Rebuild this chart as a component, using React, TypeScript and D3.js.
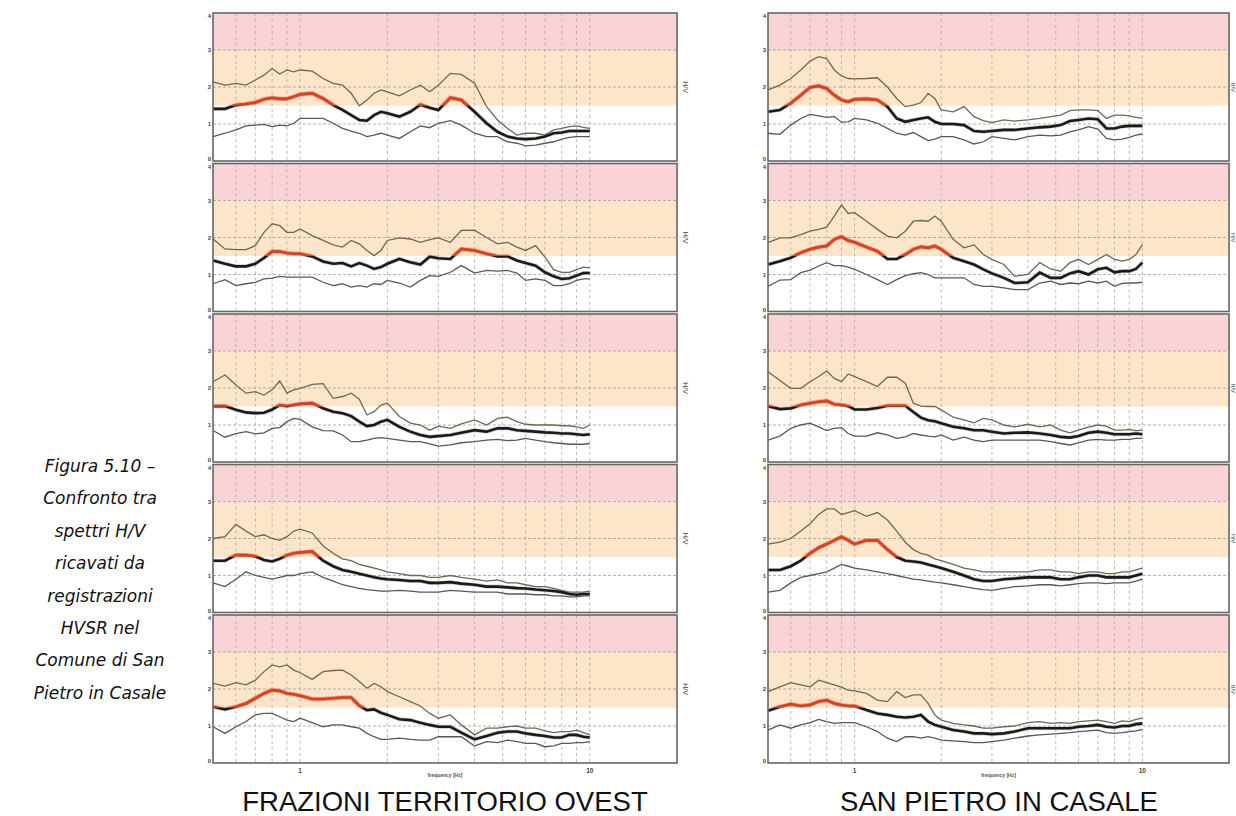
import React from 'react';
import * as d3 from 'd3';

// ---------- DATA ----------
const FREQ = [0.5,0.55,0.6,0.65,0.7,0.75,0.8,0.85,0.9,0.95,1,1.1,1.2,1.3,1.4,1.5,1.6,1.7,1.8,1.9,2,2.2,2.4,2.6,2.8,3,3.3,3.6,4,4.4,4.8,5.2,5.6,6,6.5,7,7.5,8,8.5,9,9.5,10];

// FRAZIONI TERRITORIO OVEST (left column), panels top to bottom
const OVEST_UPPER = [
  [2.14,2.05,2.1,2.05,2.19,2.32,2.5,2.35,2.46,2.41,2.46,2.43,2.23,2.1,2.05,1.83,1.49,1.65,1.83,1.92,1.87,1.76,1.92,2.05,1.87,2.05,2.37,2.34,2.1,1.47,1.11,0.88,0.7,0.75,0.75,0.7,0.84,0.88,0.93,0.95,0.91,0.88],
  [1.96,1.69,1.67,1.67,1.78,2.14,2.37,2.32,2.14,2.14,2.23,2.05,1.92,1.8,1.74,1.92,1.83,1.65,1.51,1.65,1.92,1.99,1.96,1.87,1.94,1.99,1.87,2.19,2.2,2.0,1.83,1.87,1.74,1.65,1.78,1.47,1.13,1.06,1.06,1.13,1.2,1.18],
  [2.17,2.35,2.08,1.86,1.9,1.81,1.95,2.19,1.86,1.95,1.99,2.1,2.12,1.72,1.77,1.86,1.7,1.27,1.36,1.54,1.59,1.23,1.05,1.0,0.86,0.97,0.91,1.03,1.14,1.0,1.18,1.21,1.09,1.02,1.0,1.0,1.0,0.98,0.98,0.95,0.91,1.0],
  [2.0,2.05,2.38,2.2,2.05,2.1,2.0,1.95,2.05,2.2,2.25,2.15,1.8,1.6,1.45,1.4,1.3,1.25,1.2,1.15,1.1,1.05,1.0,1.0,0.95,0.95,1.0,0.95,0.9,0.85,0.88,0.8,0.8,0.75,0.7,0.7,0.65,0.6,0.55,0.55,0.55,0.58],
  [2.15,2.08,2.17,2.11,2.24,2.47,2.65,2.6,2.65,2.51,2.44,2.26,2.47,2.5,2.51,2.38,2.2,2.02,2.15,2.06,1.93,1.79,1.66,1.54,1.34,1.21,1.3,1.03,0.76,0.94,0.94,0.98,1.0,0.94,0.94,0.87,0.82,0.85,0.85,0.89,0.82,0.77],
];
const OVEST_MEAN = [
  [1.41,1.41,1.51,1.54,1.58,1.67,1.71,1.68,1.68,1.74,1.8,1.83,1.69,1.51,1.38,1.24,1.11,1.09,1.24,1.33,1.29,1.2,1.33,1.52,1.44,1.38,1.71,1.65,1.33,1.02,0.79,0.66,0.61,0.59,0.61,0.66,0.75,0.77,0.81,0.81,0.81,0.81],
  [1.38,1.29,1.22,1.22,1.29,1.45,1.62,1.62,1.58,1.56,1.56,1.49,1.35,1.29,1.31,1.22,1.31,1.24,1.15,1.2,1.29,1.42,1.33,1.27,1.48,1.44,1.42,1.69,1.65,1.56,1.49,1.49,1.38,1.31,1.24,1.06,0.95,0.88,0.9,0.97,1.04,1.04],
  [1.51,1.51,1.41,1.34,1.32,1.33,1.42,1.54,1.51,1.54,1.57,1.59,1.45,1.36,1.32,1.24,1.09,0.97,1.0,1.09,1.14,0.95,0.82,0.73,0.68,0.7,0.73,0.79,0.86,0.82,0.91,0.91,0.86,0.84,0.82,0.8,0.79,0.77,0.77,0.75,0.73,0.75],
  [1.4,1.4,1.55,1.55,1.52,1.42,1.38,1.45,1.55,1.6,1.62,1.65,1.4,1.25,1.15,1.1,1.05,1.0,0.95,0.92,0.9,0.88,0.85,0.85,0.8,0.8,0.82,0.78,0.75,0.7,0.7,0.68,0.66,0.65,0.62,0.6,0.58,0.55,0.5,0.48,0.5,0.5],
  [1.52,1.45,1.52,1.61,1.75,1.88,1.97,1.95,1.88,1.86,1.82,1.73,1.73,1.75,1.77,1.77,1.55,1.43,1.45,1.36,1.3,1.18,1.16,1.09,1.03,0.98,0.98,0.82,0.64,0.73,0.82,0.85,0.85,0.8,0.76,0.73,0.69,0.69,0.76,0.76,0.71,0.69],
];
const OVEST_LOWER = [
  [0.66,0.75,0.84,0.95,0.97,0.99,0.93,0.97,0.95,1.02,1.15,1.15,1.15,1.02,0.88,0.81,0.75,0.66,0.7,0.75,0.7,0.61,0.79,0.95,0.9,1.02,1.09,0.97,0.75,0.66,0.66,0.52,0.48,0.41,0.43,0.48,0.52,0.59,0.64,0.66,0.66,0.66],
  [0.75,0.86,0.7,0.75,0.79,0.88,0.9,0.95,0.93,0.93,0.93,0.93,0.79,0.7,0.75,0.66,0.7,0.66,0.75,0.73,0.84,0.77,0.66,0.84,0.97,0.95,1.06,1.24,1.04,1.11,1.09,1.11,1.04,0.84,0.88,0.84,0.7,0.7,0.75,0.84,0.88,0.88],
  [0.85,0.67,0.77,0.82,0.76,0.79,0.91,0.93,1.09,1.18,1.15,0.95,0.85,0.84,0.73,0.55,0.55,0.59,0.64,0.66,0.64,0.59,0.55,0.55,0.49,0.43,0.46,0.52,0.55,0.59,0.61,0.58,0.59,0.64,0.59,0.55,0.52,0.5,0.48,0.48,0.48,0.5],
  [0.8,0.7,0.9,1.1,1.0,0.95,0.9,0.95,1.0,1.0,1.05,1.1,0.95,0.85,0.75,0.7,0.65,0.62,0.6,0.58,0.58,0.6,0.58,0.55,0.55,0.55,0.6,0.58,0.55,0.55,0.55,0.5,0.5,0.5,0.48,0.48,0.45,0.45,0.42,0.42,0.45,0.45],
  [0.98,0.8,0.98,1.12,1.3,1.34,1.34,1.25,1.16,1.12,1.21,1.09,0.98,1.03,1.03,0.98,0.94,0.8,0.71,0.64,0.64,0.67,0.64,0.62,0.62,0.71,0.71,0.71,0.46,0.58,0.55,0.62,0.58,0.53,0.53,0.44,0.46,0.53,0.53,0.55,0.55,0.58],
];

// SAN PIETRO IN CASALE (right column), panels top to bottom
const CASALE_UPPER = [
  [1.92,2.05,2.23,2.46,2.7,2.82,2.77,2.46,2.3,2.23,2.22,2.23,2.25,2.0,1.69,1.47,1.51,1.58,1.83,1.69,1.38,1.33,1.47,1.2,1.09,1.04,1.11,1.08,1.11,1.15,1.2,1.24,1.36,1.38,1.38,1.36,1.15,1.24,1.24,1.22,1.18,1.15],
  [1.86,1.99,1.99,2.08,2.17,2.22,2.28,2.58,2.88,2.65,2.67,2.44,2.22,2.04,1.99,2.17,2.44,2.46,2.44,2.58,2.44,1.95,1.72,1.8,1.54,1.41,1.27,0.95,1.0,1.32,1.15,1.09,1.32,1.41,1.27,1.41,1.54,1.41,1.36,1.41,1.54,1.81],
  [2.44,2.2,1.99,1.99,2.17,2.31,2.46,2.26,2.17,2.38,2.31,2.17,2.04,2.29,2.29,2.13,1.59,1.51,1.5,1.5,1.41,1.21,1.14,1.06,1.18,1.14,1.0,0.95,1.02,0.95,1.0,0.86,0.79,0.86,0.94,1.0,0.97,0.86,0.86,0.88,0.85,0.86],
  [1.85,1.9,2.0,2.2,2.4,2.65,2.8,2.8,2.65,2.7,2.75,2.6,2.7,2.5,2.2,1.9,1.7,1.6,1.55,1.45,1.4,1.3,1.2,1.15,1.1,1.1,1.1,1.1,1.1,1.15,1.15,1.1,1.1,1.05,1.1,1.1,1.05,1.05,1.1,1.1,1.15,1.2],
  [1.93,2.06,2.17,2.11,2.06,2.24,2.17,2.11,2.05,1.97,1.95,1.88,1.7,1.66,1.93,1.77,1.84,1.84,1.61,1.3,1.16,1.07,1.03,1.0,0.94,0.94,0.98,1.0,1.09,1.12,1.07,1.09,1.07,1.12,1.14,1.16,1.12,1.07,1.14,1.12,1.18,1.21],
];
const CASALE_MEAN = [
  [1.33,1.38,1.56,1.78,1.99,2.03,1.96,1.78,1.65,1.6,1.67,1.68,1.65,1.47,1.15,1.06,1.11,1.15,1.18,1.06,1.0,1.0,0.97,0.81,0.79,0.81,0.84,0.84,0.88,0.91,0.93,0.97,1.08,1.11,1.15,1.13,0.88,0.88,0.93,0.95,0.95,0.95],
  [1.27,1.36,1.45,1.59,1.68,1.74,1.77,1.95,2.02,1.92,1.87,1.74,1.63,1.42,1.42,1.54,1.68,1.75,1.72,1.77,1.68,1.45,1.36,1.27,1.14,1.03,0.91,0.77,0.79,1.05,0.91,0.91,1.03,1.09,1.0,1.14,1.18,1.06,1.09,1.09,1.15,1.32],
  [1.51,1.43,1.45,1.54,1.59,1.63,1.65,1.56,1.54,1.51,1.42,1.42,1.46,1.52,1.52,1.52,1.35,1.2,1.13,1.1,1.05,0.95,0.91,0.86,0.86,0.82,0.77,0.79,0.8,0.77,0.73,0.68,0.66,0.7,0.79,0.82,0.79,0.75,0.75,0.75,0.77,0.75],
  [1.15,1.15,1.25,1.4,1.6,1.75,1.85,1.95,2.05,1.95,1.85,1.95,1.95,1.7,1.5,1.4,1.38,1.35,1.3,1.25,1.2,1.1,1.0,0.9,0.85,0.85,0.9,0.92,0.95,0.95,0.95,0.9,0.9,0.95,1.0,1.0,0.95,0.95,0.95,0.95,1.0,1.05],
  [1.41,1.52,1.59,1.54,1.57,1.66,1.7,1.61,1.57,1.54,1.54,1.43,1.34,1.3,1.25,1.23,1.25,1.3,1.12,1.03,0.98,0.89,0.85,0.8,0.8,0.78,0.8,0.85,0.94,0.94,0.94,0.94,0.94,0.98,1.0,1.03,0.98,0.96,1.0,1.0,1.05,1.07],
];
const CASALE_LOWER = [
  [0.75,0.72,0.97,1.15,1.26,1.22,1.18,1.2,1.05,1.06,1.15,1.11,1.02,0.88,0.75,0.7,0.77,0.66,0.55,0.59,0.66,0.66,0.57,0.46,0.52,0.66,0.61,0.57,0.66,0.7,0.68,0.7,0.79,0.84,0.93,0.86,0.61,0.57,0.59,0.64,0.7,0.73],
  [0.68,0.85,0.86,1.05,1.12,1.23,1.32,1.24,1.24,1.2,1.14,1.0,0.86,0.73,0.86,0.97,1.02,1.05,1.0,0.91,0.91,0.91,0.91,0.73,0.68,0.68,0.64,0.59,0.59,0.77,0.82,0.73,0.77,0.75,0.82,0.77,0.82,0.68,0.76,0.77,0.77,0.79],
  [0.59,0.7,0.91,1.0,1.05,0.95,0.85,0.91,0.93,0.77,0.7,0.7,0.79,0.73,0.64,0.68,0.77,0.73,0.7,0.68,0.73,0.59,0.67,0.59,0.55,0.59,0.59,0.59,0.59,0.59,0.55,0.5,0.46,0.52,0.59,0.61,0.59,0.59,0.61,0.61,0.64,0.64],
  [0.55,0.6,0.8,0.95,1.0,1.05,1.1,1.2,1.3,1.25,1.2,1.15,1.1,1.05,1.0,0.95,0.9,0.88,0.85,0.82,0.8,0.75,0.7,0.65,0.62,0.6,0.65,0.7,0.72,0.75,0.75,0.72,0.75,0.78,0.8,0.8,0.78,0.8,0.8,0.8,0.85,0.9],
  [0.89,1.03,0.94,1.03,1.09,1.18,1.12,1.07,1.09,1.09,1.09,0.98,0.85,0.67,0.58,0.71,0.71,0.67,0.71,0.67,0.62,0.6,0.58,0.55,0.55,0.58,0.62,0.67,0.73,0.76,0.78,0.8,0.82,0.85,0.87,0.89,0.82,0.8,0.82,0.85,0.87,0.91],
];

const Y_TICKS = [0, 1, 2, 3, 4];
const H_GRID = [1, 2, 3];
const V_GRID = [0.6, 0.7, 0.8, 0.9, 1, 2, 3, 4, 5, 6, 7, 8, 9, 10];
const X_TICKS = [1, 10];
const BAND_LOW = 1.5;   // start of orange band (and red peak highlighting)
const BAND_MID = 3;     // start of pink band
const Y_MAX = 4;
const FREQ_DOMAIN = [0.5, 20];
const COLUMN_TITLES = ['FRAZIONI TERRITORIO OVEST', 'SAN PIETRO IN CASALE'];
const CAPTION = ['Figura 5.10 \u2013', 'Confronto tra', 'spettri H/V', 'ricavati da', 'registrazioni', 'HVSR nel', 'Comune di San', 'Pietro in Casale'];

// ---------- LAYOUT ----------
const W = 1236, H = 816;
const TOP0 = 13, PITCH = 150.5, PH = 148;
const COLS = [
  { x0: 213, x1: 677, hvX: 683, hvSize: 7, titleX: 445, upper: OVEST_UPPER, mean: OVEST_MEAN, lower: OVEST_LOWER },
  { x0: 768, x1: 1229, hvX: 1231, hvSize: 5.5, titleX: 999, upper: CASALE_UPPER, mean: CASALE_MEAN, lower: CASALE_LOWER },
];

function Panel(props: any) {
  const { xs, top, up, mn, lo, id, hvX, hvSize } = props;
  const ys = d3.scaleLinear().domain([0, Y_MAX]).range([top + PH, top]);
  const [x0, x1] = xs.range();
  const line = d3.line<number>().x((_, i) => xs(FREQ[i])).y((d) => ys(d));
  const clipId = `clip-${id}`;
  const font = 'Liberation Sans, Arial, sans-serif';
  return (
    <g>
      <rect x={x0} y={top} width={x1 - x0} height={PH} fill="#ffffff" />
      <rect x={x0} y={ys(Y_MAX)} width={x1 - x0} height={ys(BAND_MID) - ys(Y_MAX)} fill="#f9d3d5" />
      <rect x={x0} y={ys(BAND_MID)} width={x1 - x0} height={ys(BAND_LOW) - ys(BAND_MID)} fill="#fde5c9" />
      {V_GRID.map((f) => (
        <line key={'v' + f} x1={xs(f)} x2={xs(f)} y1={top} y2={top + PH} stroke="#a9a9a9" strokeWidth={0.8} strokeDasharray="3,3" />
      ))}
      {H_GRID.map((v) => (
        <line key={'h' + v} x1={x0} x2={x1} y1={ys(v)} y2={ys(v)} stroke="#a0a0a0" strokeWidth={0.8} strokeDasharray="3,2" />
      ))}
      <defs>
        <clipPath id={clipId}>
          <rect x={x0} y={top} width={x1 - x0} height={ys(BAND_LOW) - top} />
        </clipPath>
      </defs>
      <path d={line(up) || ''} fill="none" stroke="#6e6852" strokeWidth={1.3} />
      <path d={line(lo) || ''} fill="none" stroke="#585858" strokeWidth={1.3} />
      <path d={line(mn) || ''} fill="none" stroke="#8a8a8a" strokeWidth={4} strokeOpacity={0.4} />
      <path d={line(mn) || ''} fill="none" stroke="#1a1a1a" strokeWidth={2.6} />
      <g clipPath={`url(#${clipId})`}>
        <path d={line(mn) || ''} fill="none" stroke="#f29a82" strokeWidth={4.4} strokeOpacity={0.7} />
        <path d={line(mn) || ''} fill="none" stroke="#e23e1c" strokeWidth={2.6} />
      </g>
      <rect x={x0} y={top} width={x1 - x0} height={PH} fill="none" stroke="#666" strokeWidth={1.6} />
      {Y_TICKS.map((v) => (
        <text key={'yt' + v} x={x0 - 2} y={v === Y_MAX ? ys(v) + 5 : v === 0 ? ys(v) : ys(v) + 2} fontSize={6} fontWeight="bold" fill="#444" textAnchor="end" fontFamily={font}>{v}</text>
      ))}
      <text transform={`translate(${hvX},${top + PH * 0.5}) rotate(90)`} fontSize={hvSize} fill="#444" textAnchor="middle" fontFamily={font}>H/V</text>
    </g>
  );
}

export default function App() {
  return (
    <svg width={W} height={H} style={{ position: 'absolute', left: 0, top: 0, background: '#fff' }} xmlns="http://www.w3.org/2000/svg">
      <rect x={0} y={0} width={W} height={H} fill="#fff" />
      {COLS.map((c, ci) => {
        const xs = d3.scaleLog().domain(FREQ_DOMAIN).range([c.x0, c.x1]);
        const lastBottom = TOP0 + PITCH * (c.mean.length - 1) + PH;
        return (
          <g key={ci}>
            {c.mean.map((mn, pi) => (
              <Panel key={pi} id={`${ci}-${pi}`} xs={xs} top={TOP0 + PITCH * pi} up={c.upper[pi]} mn={mn} lo={c.lower[pi]} hvX={c.hvX} hvSize={c.hvSize} />
            ))}
            {X_TICKS.map((f) => (
              <text key={'xt' + f} x={xs(f)} y={lastBottom + 10} fontSize={6.5} fontWeight="bold" fill="#444" textAnchor="middle" fontFamily="Liberation Sans, Arial, sans-serif">{f}</text>
            ))}
            <text x={(xs(1) + xs(10)) / 2} y={lastBottom + 14} fontSize={5} fontWeight="bold" fill="#555" textAnchor="middle" fontFamily="Liberation Sans, Arial, sans-serif">frequency [Hz]</text>
            <text x={c.titleX} y={811} fontSize={27.5} fill="#111" textAnchor="middle" fontFamily="Liberation Sans, Arial, sans-serif">{COLUMN_TITLES[ci]}</text>
          </g>
        );
      })}
      {CAPTION.map((t, i) => (
        <text key={'cap' + i} x={100} y={472 + i * 32.4} fontSize={17} fontStyle="italic" fill="#111" textAnchor="middle" fontFamily="DejaVu Sans, sans-serif">{t}</text>
      ))}
    </svg>
  );
}
